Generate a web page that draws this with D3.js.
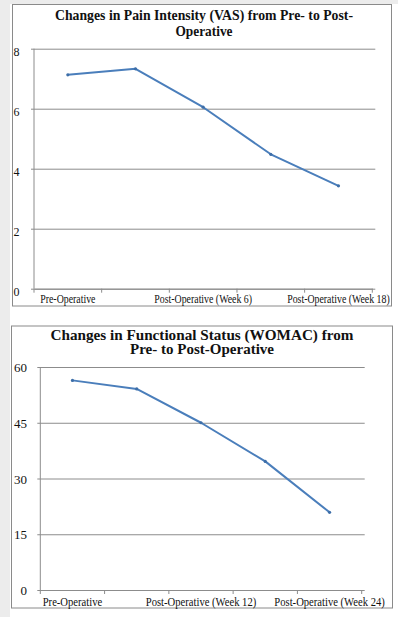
<!DOCTYPE html>
<html>
<head>
<meta charset="utf-8">
<script src="https://cdn.jsdelivr.net/npm/d3@7"></script>
<style>
  body { margin: 0; background: #fff; }
  svg { display: block; }
  text { font-family: "Liberation Serif", "Times New Roman", serif; fill: #111; }
</style>
</head>
<body>
<svg id="page" width="398" height="617"></svg>
<script>
// chart 1 - pain intensity (VAS)
var vasCategories = ["Pre-Operative", "Post-Operative (Week 3)", "Post-Operative (Week 6)", "Post-Operative (Week 12)", "Post-Operative (Week 18)"];
var vasValues = [7.13, 7.33, 6.05, 4.48, 3.43];
var vasTicks = [0, 2, 4, 6, 8];

// chart 2 - functional status (WOMAC)
var womacCategories = ["Pre-Operative", "Post-Operative (Week 6)", "Post-Operative (Week 12)", "Post-Operative (Week 18)", "Post-Operative (Week 24)"];
var womacValues = [56.4, 54.1, 45.0, 34.6, 20.9];
var womacTicks = [0, 15, 30, 45, 60];

var svg = d3.select("#page");

// grey strips of the screenshot
svg.append("rect").attr("x", 0).attr("y", 0).attr("width", 398).attr("height", 4).attr("fill", "#ececec");
svg.append("rect").attr("x", 0).attr("y", 0).attr("width", 10).attr("height", 617).attr("fill", "#ececec");

function drawChart(opt) {
    var box = opt.box;
    svg.append("rect")
        .attr("x", box[0]).attr("y", box[1])
        .attr("width", box[2] - box[0]).attr("height", box[3] - box[1])
        .attr("fill", "#fff").attr("stroke", "#8a8a8a").attr("stroke-width", 1);

    // title
    opt.title.forEach(function (t, i) {
        svg.append("text")
            .attr("x", opt.titleX).attr("y", opt.titleY[i])
            .attr("text-anchor", "middle")
            .attr("font-weight", "bold")
            .attr("font-size", opt.titleSize)
            .attr("textLength", opt.titleLen[i])
            .attr("lengthAdjust", "spacingAndGlyphs")
            .text(t);
    });

    var x = d3.scaleBand().domain(opt.categories).range([opt.left, opt.right]);
    var y = d3.scaleLinear().domain([0, d3.max(opt.ticks)]).range([opt.bottom, opt.top]);
    var w = opt.right - opt.left;

    // gridlines + y labels
    var yAxis = svg.append("g")
        .attr("transform", "translate(" + opt.left + ",0)")
        .call(d3.axisLeft(y).tickValues(opt.ticks).tickSize(-w - 3).tickPadding(0));
    yAxis.select(".domain").remove();
    yAxis.selectAll(".tick line")
        .attr("x1", -3)
        .attr("stroke", "#8c8c8c").attr("stroke-width", 1);
    yAxis.selectAll(".tick text")
        .attr("x", opt.yLabelX - opt.left)
        .attr("dy", opt.yLabelDy)
        .attr("text-anchor", opt.yLabelAnchor)
        .attr("font-size", opt.yLabelSize)
        .style("font-family", "Liberation Serif, serif")
        .attr("fill", "#111");

    // y axis line
    svg.append("line")
        .attr("x1", opt.left).attr("x2", opt.left)
        .attr("y1", opt.top).attr("y2", opt.bottom)
        .attr("stroke", "#8c8c8c");

    // x axis: line, boundary ticks, every other label
    var xAxis = svg.append("g")
        .attr("transform", "translate(0," + opt.bottom + ")")
        .call(d3.axisBottom(x).tickSize(0).tickPadding(opt.xLabelPad)
            .tickFormat(function (d, i) { return i % 2 === 0 ? d : ""; }));
    xAxis.select(".domain").attr("stroke", "#8c8c8c");
    // the screenshot's labels are narrower than the font, squeeze them round their centre
    xAxis.selectAll(".tick text")
        .attr("font-size", opt.xLabelSize)
        .attr("transform", "scale(" + opt.xSquash + ",1)")
        .style("font-family", "Liberation Serif, serif")
        .attr("fill", "#111");
    var bounds = opt.categories.map(function (c) { return x(c); }).concat([opt.right]);
    xAxis.selectAll(".bound")
        .data(bounds)
        .enter().append("line")
        .attr("class", "bound")
        .attr("x1", function (d) { return d; }).attr("x2", function (d) { return d; })
        .attr("y1", 0).attr("y2", 4)
        .attr("stroke", "#8c8c8c");

    // series
    var pts = opt.values.map(function (v, i) { return [x(opt.categories[i]) + x.bandwidth() / 2, y(v)]; });
    svg.append("path")
        .attr("d", d3.line()(pts))
        .attr("fill", "none")
        .attr("stroke", "#4a7ebb")
        .attr("stroke-width", 2)
        .attr("stroke-linejoin", "round");
    svg.selectAll(null)
        .data(pts)
        .enter().append("circle")
        .attr("cx", function (d) { return d[0]; })
        .attr("cy", function (d) { return d[1]; })
        .attr("r", 1.6)
        .attr("fill", "#3d6ea8");
}

drawChart({
    box: [12.5, 4.5, 391.5, 306],
    title: ["Changes in Pain Intensity (VAS) from Pre- to Post-", "Operative"],
    titleX: 204, titleY: [20, 36], titleSize: 15, titleLen: [298, 57],
    categories: vasCategories, values: vasValues, ticks: vasTicks,
    left: 34, right: 372.3, top: 48.7, bottom: 288.7,
    yLabelX: 13.5, yLabelAnchor: "start", yLabelDy: "0.55em", yLabelSize: 12,
    xLabelSize: 11.6, xLabelPad: 6, xSquash: 0.85
});

drawChart({
    box: [11.5, 326, 392.5, 608],
    title: ["Changes in Functional Status (WOMAC) from", "Pre- to Post-Operative"],
    titleX: 202, titleY: [340, 354], titleSize: 14, titleLen: [303, 144],
    categories: womacCategories, values: womacValues, ticks: womacTicks,
    left: 40.3, right: 361.7, top: 367, bottom: 590,
    yLabelX: 27, yLabelAnchor: "end", yLabelDy: "0.35em", yLabelSize: 13,
    xLabelSize: 12.2, xLabelPad: 7, xSquash: 0.87
});
</script>
</body>
</html>
